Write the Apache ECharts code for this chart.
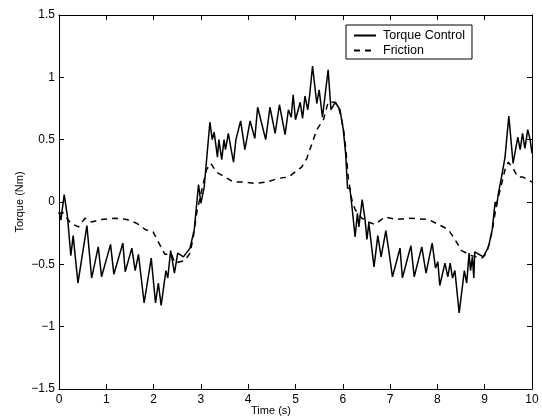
<!DOCTYPE html>
<html>
<head>
<meta charset="utf-8">
<script src="https://cdn.jsdelivr.net/npm/echarts@6/dist/echarts.min.js"></script>
<style>
  html, body { margin: 0; padding: 0; background: #fff; }
  #chart { width: 542px; height: 419px; }
</style>
</head>
<body>
<div id="chart"></div>
<script>
// Measured torque from the controller: [time (s), torque (Nm)]
const torqueTime = [0.00, 0.04, 0.11, 0.18, 0.25, 0.30, 0.40, 0.59, 0.69, 0.83, 0.90, 1.09, 1.16, 1.35, 1.40, 1.54, 1.61, 1.68, 1.80, 1.95,
  2.04, 2.10, 2.16, 2.26, 2.30, 2.36, 2.44, 2.51, 2.63, 2.77, 2.86, 2.95, 3.00, 3.07, 3.19, 3.24, 3.28, 3.35, 3.38, 3.44,
  3.49, 3.52, 3.58, 3.64, 3.69, 3.74, 3.84, 3.93, 4.04, 4.14, 4.20, 4.37, 4.46, 4.57, 4.66, 4.78, 4.85, 4.91, 4.95, 5.00,
  5.10, 5.15, 5.20, 5.26, 5.30, 5.36, 5.45, 5.50, 5.57, 5.69, 5.75, 5.84, 5.94, 6.01, 6.06, 6.10, 6.15, 6.20, 6.26, 6.31,
  6.34, 6.41, 6.47, 6.51, 6.55, 6.66, 6.74, 6.81, 6.91, 6.98, 7.05, 7.21, 7.26, 7.44, 7.51, 7.67, 7.76, 7.89, 7.96, 8.01,
  8.05, 8.16, 8.22, 8.27, 8.32, 8.37, 8.46, 8.57, 8.62, 8.67, 8.70, 8.74, 8.77, 8.79, 8.97, 9.08, 9.16, 9.22, 9.25, 9.29,
  9.37, 9.43, 9.51, 9.60, 9.70, 9.75, 9.80, 9.85, 9.91, 9.96, 10.00];
const torqueValue = [-0.08, -0.145, 0.06, -0.12, -0.43, -0.27, -0.65, -0.19, -0.61, -0.36, -0.60, -0.34, -0.58, -0.33, -0.56, -0.37, -0.55, -0.42, -0.81, -0.45,
  -0.81, -0.65, -0.83, -0.55, -0.61, -0.39, -0.57, -0.41, -0.44, -0.37, -0.22, 0.14, -0.01, 0.12, 0.64, 0.50, 0.56, 0.36, 0.50, 0.34,
  0.50, 0.42, 0.55, 0.42, 0.32, 0.50, 0.65, 0.42, 0.65, 0.51, 0.76, 0.50, 0.76, 0.55, 0.78, 0.54, 0.74, 0.68, 0.86, 0.66,
  0.80, 0.67, 0.85, 0.74, 0.86, 1.09, 0.79, 0.90, 0.68, 1.06, 0.74, 0.80, 0.74, 0.58, 0.39, 0.11, 0.11, -0.06, -0.28, -0.09,
  -0.20, 0.02, -0.14, -0.30, -0.17, -0.52, -0.27, -0.44, -0.23, -0.41, -0.60, -0.37, -0.61, -0.35, -0.60, -0.36, -0.57, -0.33, -0.53, -0.48,
  -0.67, -0.49, -0.60, -0.49, -0.61, -0.55, -0.89, -0.55, -0.65, -0.41, -0.55, -0.44, -0.61, -0.40, -0.44, -0.36, -0.22, 0.00, -0.04, 0.07,
  0.23, 0.36, 0.69, 0.31, 0.52, 0.42, 0.55, 0.43, 0.58, 0.50, 0.39];

// Estimated friction torque: [time (s), torque (Nm)]
const frictionTime = [0.00, 0.07, 0.25, 0.41, 0.55, 0.69, 0.90, 1.18, 1.43, 1.64, 1.82, 1.99, 2.14, 2.24, 2.38, 2.45, 2.66, 2.77, 2.84, 2.91,
  3.02, 3.12, 3.21, 3.33, 3.51, 3.69, 3.90, 4.14, 4.39, 4.64, 4.85, 5.06, 5.13, 5.24, 5.34, 5.45, 5.59, 5.69, 5.84, 5.92,
  6.01, 6.06, 6.12, 6.19, 6.26, 6.40, 6.54, 6.68, 6.89, 7.14, 7.42, 7.81, 8.02, 8.23, 8.37, 8.51, 8.72, 8.94, 9.04, 9.15,
  9.25, 9.36, 9.43, 9.50, 9.60, 9.70, 9.81, 10.00];
const frictionValue = [-0.10, -0.08, -0.17, -0.20, -0.13, -0.16, -0.14, -0.13, -0.14, -0.17, -0.22, -0.24, -0.35, -0.42, -0.42, -0.49, -0.47, -0.41, -0.28, -0.09,
  0.10, 0.26, 0.31, 0.24, 0.20, 0.16, 0.16, 0.15, 0.16, 0.19, 0.20, 0.26, 0.28, 0.35, 0.46, 0.58, 0.66, 0.80, 0.80, 0.75,
  0.60, 0.44, 0.18, 0.02, -0.06, -0.13, -0.16, -0.18, -0.12, -0.14, -0.13, -0.14, -0.18, -0.22, -0.30, -0.39, -0.43, -0.45, -0.41, -0.25,
  -0.02, 0.15, 0.26, 0.32, 0.27, 0.20, 0.20, 0.16];

const seriesNames = ['Torque Control', 'Friction'];
const xTitle = 'Time (s)';
const yTitle = 'Torque (Nm)';

const FONT = '"Liberation Sans", Arial, Helvetica, sans-serif';
const zip = (xs, ys) => xs.map((x, i) => [x, ys[i]]);
const minusFmt = v => String(v).replace('-', '\u2212');

const chart = echarts.init(document.getElementById('chart'), null, { renderer: 'canvas' });

const axisCommon = {
  type: 'value',
  axisLine: { show: true, onZero: false, lineStyle: { color: '#000', width: 1 } },
  axisTick: { show: true, inside: true, length: 5, lineStyle: { color: '#000', width: 1 } },
  splitLine: { show: false }
};

chart.setOption({
  animation: false,
  backgroundColor: '#fff',
  grid: { left: 59, right: 10, top: 15, bottom: 30, containLabel: false },
  xAxis: [
    Object.assign({}, axisCommon, {
      position: 'bottom', min: 0, max: 10, interval: 1,
      axisLabel: { color: '#000', fontFamily: FONT, fontSize: 12, margin: 5, formatter: minusFmt }
    }),
    Object.assign({}, axisCommon, {
      position: 'top', min: 0, max: 10, interval: 1, axisLabel: { show: false }
    })
  ],
  yAxis: [
    Object.assign({}, axisCommon, {
      position: 'left', min: -1.5, max: 1.5, interval: 0.5,
      axisLabel: { color: '#000', fontFamily: FONT, fontSize: 12, margin: 4, formatter: minusFmt }
    }),
    Object.assign({}, axisCommon, {
      position: 'right', min: -1.5, max: 1.5, interval: 0.5, axisLabel: { show: false }
    })
  ],
  legend: {
    orient: 'vertical',
    left: 346, top: 25,
    data: seriesNames,
    itemWidth: 22, itemHeight: 12, itemGap: 2,
    padding: [4, 7, 2, 7],
    borderColor: '#000', borderWidth: 1,
    backgroundColor: '#fff',
    itemStyle: { opacity: 0 },
    textStyle: { color: '#000', fontFamily: FONT, fontSize: 12.5, padding: [0, 0, 0, 2] }
  },
  graphic: [
    {
      type: 'text', left: 'center', top: 405,
      style: { text: xTitle, fill: '#000', font: '11px ' + FONT }
    },
    {
      type: 'text', x: 20, y: 202, rotation: Math.PI / 2,
      style: { text: yTitle, fill: '#000', font: '11px ' + FONT, align: 'center', verticalAlign: 'middle' }
    }
  ],
  series: [
    {
      name: seriesNames[0], type: 'line', symbol: 'none',
      data: zip(torqueTime, torqueValue),
      lineStyle: { color: '#000', width: 1.5 },
      itemStyle: { color: '#000' }
    },
    {
      name: seriesNames[1], type: 'line', symbol: 'none',
      data: zip(frictionTime, frictionValue),
      lineStyle: { color: '#000', width: 1.5, type: [6, 5] },
      itemStyle: { color: '#000' }
    }
  ]
});
</script>
</body>
</html>
